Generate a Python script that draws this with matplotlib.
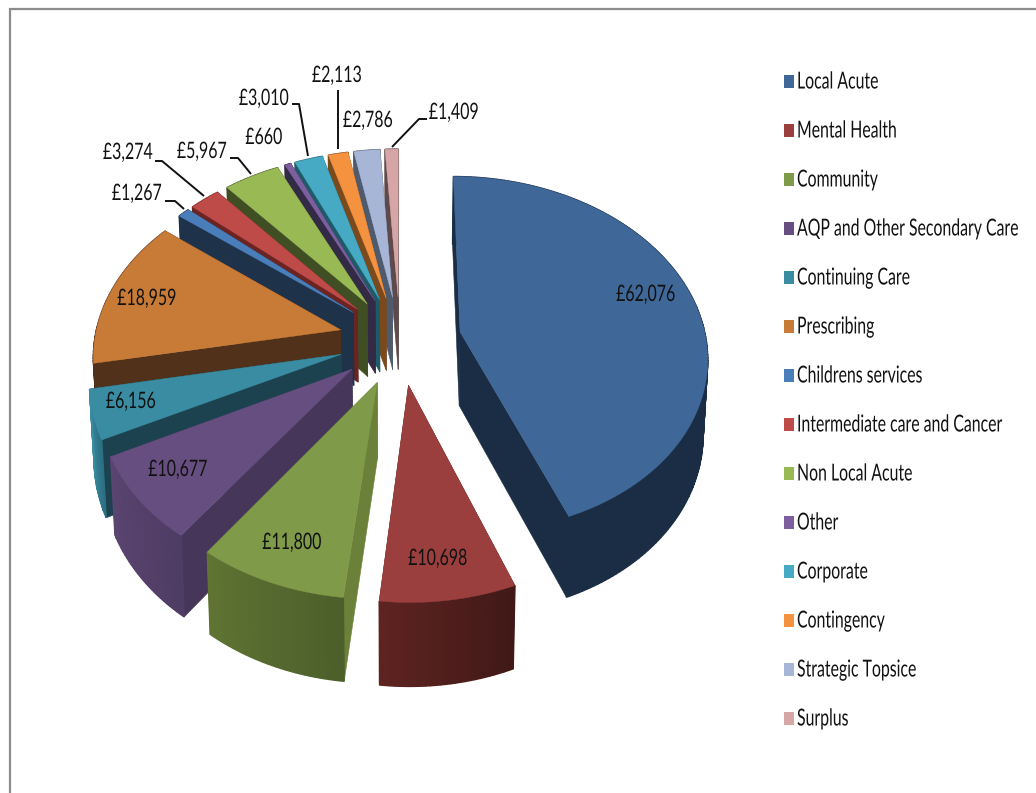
import numpy as np
import matplotlib
matplotlib.use("Agg")
import matplotlib.pyplot as plt
from matplotlib.patches import Polygon, Rectangle
from matplotlib.patheffects import AbstractPathEffect
from matplotlib.transforms import Affine2D

categories = ["Local Acute", "Mental Health", "Community", "AQP and Other Secondary Care",
              "Continuing Care", "Prescribing", "Childrens services",
              "Intermediate care and Cancer", "Non Local Acute", "Other", "Corporate",
              "Contingency", "Strategic Topsice", "Surplus"]
values = [62076, 10698, 11800, 10677, 6156, 18959, 1267, 3274, 5967, 660, 3010, 2113, 2786, 1409]

top_colors = ["#3F6797", "#9A3F3D", "#7F9A48", "#664F80", "#3A8CA3", "#C87B36", "#4A7EBB",
              "#BE4B48", "#98B954", "#7D5FA0", "#46AAC4", "#F59240", "#A7B6D6", "#D6A5A5"]
wall_colors = ["#1A2D45", "#5E2321", "#6B8139", "#46375A", "#1C4250", "#52311A", "#1E3249",
               "#6B2422", "#404E24", "#332A45", "#1F5A68", "#7A4A1D", "#4E5A6E", "#5E4A4A"]
rim_start = ["#1A2D45", "#401917", "#4C5F2B", "#4F3C63", "#2C6F82", "#52311A", "#1E3249",
             "#6B2422", "#404E24", "#332A45", "#1F5A68", "#7A4A1D", "#4E5A6E", "#5E4A4A"]
rim_end = ["#1A2D45", "#5E2321", "#5F7333", "#5A4470", "#3A8CA3", "#52311A", "#1E3249",
           "#6B2422", "#404E24", "#332A45", "#1F5A68", "#7A4A1D", "#4E5A6E", "#5E4A4A"]

# horizontal centre and baseline of each slice's value label
label_spots = [(646, 301), (438, 565), (292, 549), (178, 476), (131, 408), (147, 305), (137, 200),
               (128, 159), (202, 158), (264, 144), (264, 105), (337, 82), (368, 127), (454, 119)]
leaders = [[(165, 201), (175, 201), (184, 209)],
           [(155, 161), (162, 161), (204, 196)],
           [(230, 158), (238, 158), (251, 174)],
           [(292, 104), (299, 104), (308, 156)],
           [(338, 90), (338, 149)],
           [(427, 119), (419, 119), (392, 147)]]

FONT = ["Lato", "DejaVu Sans"]
CX, CY = 400.0, 340.0
RX, RY = 246.0, 177.0
PERSP = 0.127
DEPTH = 74.0
EXPLODE = 0.25


class TallText(AbstractPathEffect):
    """Stretch glyph outlines vertically about the text baseline."""

    def __init__(self, factor):
        super().__init__()
        self.factor = factor

    def draw_path(self, renderer, gc, tpath, affine, rgbFace=None):
        renderer.draw_path(gc, tpath, Affine2D().scale(1, self.factor) + affine, rgbFace)


def project(u, v, lower=False):
    """Perspective projection of a point on the pie plane onto the canvas."""
    w = 1.0 / (1.0 - PERSP * v)
    x = RX * u * w
    y = RY * v * w
    if lower:
        return CX + x * 0.985, CY + y * 0.985 + DEPTH * w
    return CX + x, CY + y


def hex_mix(a, b, t):
    ca, cb = np.array(matplotlib.colors.to_rgb(a)), np.array(matplotlib.colors.to_rgb(b))
    return tuple(ca + (cb - ca) * t)


fig = plt.figure(figsize=(10.36, 7.93), dpi=100)
ax = fig.add_axes([0, 0, 1, 1])
ax.set_xlim(0, 1036)
ax.set_ylim(793, 0)
ax.axis("off")

# chart frame: only the top and left edges fall inside the canvas
ax.plot([10, 10, 1036], [793, 9, 9], color="#8C8C8C", lw=1.6, solid_joinstyle="miter")

edges = np.cumsum([0] + values) / sum(values) * 2 * np.pi
slices = []
for i in range(len(values)):
    a0, a1 = edges[i], edges[i + 1]
    mid = (a0 + a1) / 2
    du, dv = np.sin(mid) * EXPLODE, -np.cos(mid) * EXPLODE
    th = np.linspace(a0, a1, max(8, int((a1 - a0) * 60)))
    rim_u, rim_v = du + np.sin(th), dv - np.cos(th)
    slices.append((dv, i, du, dv, rim_u, rim_v))

# paint from the far side of the pie to the near side
for _, i, du, dv, rim_u, rim_v in sorted(slices, key=lambda s: s[0]):
    apex_t = project(du, dv)
    apex_b = project(du, dv, True)
    top_pts = [project(u, v) for u, v in zip(rim_u, rim_v)]
    low_pts = [project(u, v, True) for u, v in zip(rim_u, rim_v)]
    # radial walls
    for k in (0, -1):
        ax.add_patch(Polygon([apex_t, top_pts[k], low_pts[k], apex_b], closed=True,
                             fc=wall_colors[i], ec=wall_colors[i], lw=0.4))
    # outer wall, shaded along its length
    n = len(top_pts) - 1
    for k in range(n):
        c = hex_mix(rim_start[i], rim_end[i], k / max(n - 1, 1))
        ax.add_patch(Polygon([top_pts[k], top_pts[k + 1], low_pts[k + 1], low_pts[k]], closed=True,
                             fc=c, ec=c, lw=1.0, joinstyle="bevel"))
    # top face
    ax.add_patch(Polygon([apex_t] + top_pts, closed=True, fc=top_colors[i], ec=top_colors[i], lw=0.3))

for (x, y), v in zip(label_spots, values):
    ax.text(x, y, f"£{v:,}", ha="center", va="baseline", fontsize=11.5, family=FONT,
            color="#111111", path_effects=[TallText(1.42)])

for path in leaders:
    xs, ys = zip(*path)
    ax.plot(xs, ys, color="#111111", lw=1.4, solid_capstyle="butt")

for i, name in enumerate(categories):
    y = 81.5 + 49 * i
    ax.add_patch(Rectangle((784, y - 6.5), 10, 13, fc=top_colors[i], ec="none"))
    ax.text(797, y + 7, name, ha="left", va="baseline", fontsize=11.4, family=FONT,
            color="#111111", path_effects=[TallText(1.48)])

fig.savefig("out.png", dpi=100, facecolor="white")
